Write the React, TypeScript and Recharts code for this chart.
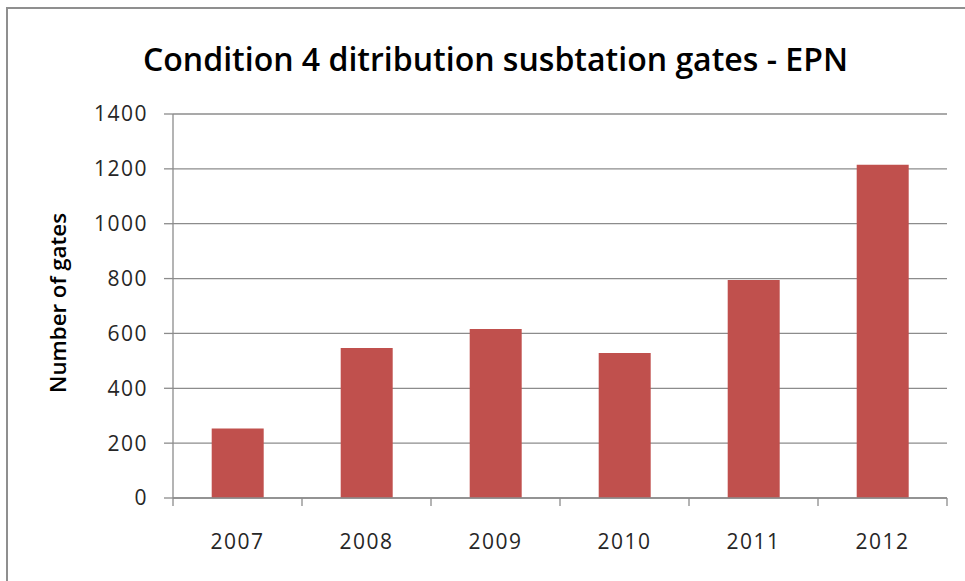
import React from "react";
import { BarChart, Bar, XAxis, YAxis, CartesianGrid } from "recharts";

// Condition 4 distribution substation gates, EPN, by year
const years = ["2007", "2008", "2009", "2010", "2011", "2012"];
const gates = [253, 547, 616, 529, 795, 1215];
const yTicks = [0, 200, 400, 600, 800, 1000, 1200, 1400];

const data = years.map((year, i) => ({ year, gates: gates[i] }));

const W = 965;
const H = 581;
const AXIS = "#8c8c8c";
const TEXT = "#262626";
const BAR = "#c0504d";
const FONT = "'Open Sans', 'Noto Sans', sans-serif";
const X_LABEL_GAP = 36;
const X_TICK_LEN = 8;

const tickStyle = { fontFamily: FONT, fontSize: 21, fill: TEXT, letterSpacing: 1.5 };

// Year label centred in its band, with tick marks on the band boundaries
function YearTick(props: any) {
  const { x, y, payload, index, visibleTicksCount } = props;
  const half = typeof payload?.offset === "number" ? payload.offset : 0;
  const axisY = y - X_LABEL_GAP;
  const last = index === visibleTicksCount - 1;
  return (
    <g>
      {half > 0 && (
        <line
          x1={x - half}
          x2={x - half}
          y1={axisY}
          y2={axisY + X_TICK_LEN}
          stroke={AXIS}
          strokeWidth={1.3}
        />
      )}
      {half > 0 && last && (
        <line
          x1={x + half}
          x2={x + half}
          y1={axisY}
          y2={axisY + X_TICK_LEN}
          stroke={AXIS}
          strokeWidth={1.3}
        />
      )}
      <text
        x={x}
        y={y}
        dy="0.71em"
        textAnchor="middle"
        fontFamily={FONT}
        fontSize={21}
        fill={TEXT}
        letterSpacing={1.5}
      >
        {payload.value}
      </text>
    </g>
  );
}

export default function App() {
  return (
    <div
      style={{
        position: "fixed",
        left: 0,
        top: 0,
        width: W,
        height: H,
        background: "#ffffff",
        overflow: "hidden",
      }}
    >
      {/* chart-area frame (left and top edges) */}
      <div
        style={{
          position: "absolute",
          left: 6,
          top: 7,
          width: W,
          height: H,
          borderLeft: "2px solid #8f8f8f",
          borderTop: "2px solid #8f8f8f",
          boxSizing: "border-box",
        }}
      />
      <BarChart
        width={W}
        height={H}
        data={data}
        margin={{ top: 114, right: 18, bottom: 0, left: 100 }}
        barCategoryGap="30%"
        style={{ position: "absolute", left: 0, top: 0 }}
      >
        <CartesianGrid horizontal vertical={false} stroke={AXIS} strokeWidth={1.3} />
        <XAxis
          dataKey="year"
          type="category"
          tickLine={false}
          tickSize={0}
          tickMargin={X_LABEL_GAP}
          axisLine={{ stroke: AXIS, strokeWidth: 1.3 }}
          tick={<YearTick />}
          height={83}
          interval={0}
        />
        <YAxis
          type="number"
          domain={[0, 1400]}
          ticks={yTicks}
          width={73}
          tickSize={9}
          tickMargin={16}
          axisLine={{ stroke: AXIS, strokeWidth: 1.3 }}
          tickLine={{ stroke: AXIS, strokeWidth: 1.3 }}
          tick={tickStyle}
          interval={0}
        />
        <Bar dataKey="gates" fill={BAR} isAnimationActive={false} />
      </BarChart>
      <svg
        width={W}
        height={H}
        style={{ position: "absolute", left: 0, top: 0, pointerEvents: "none" }}
      >
        <text
          x={495.5}
          y={71}
          textAnchor="middle"
          fontFamily={FONT}
          fontWeight={600}
          fontSize={33}
          fill="#000000"
          textLength={705}
          lengthAdjust="spacingAndGlyphs"
        >
          Condition 4 ditribution susbtation gates - EPN
        </text>
        <text
          transform="translate(66, 303) rotate(-90)"
          textAnchor="middle"
          fontFamily={FONT}
          fontWeight={600}
          fontSize={21}
          fill="#000000"
          textLength={180}
          lengthAdjust="spacingAndGlyphs"
        >
          Number of gates
        </text>
      </svg>
    </div>
  );
}
